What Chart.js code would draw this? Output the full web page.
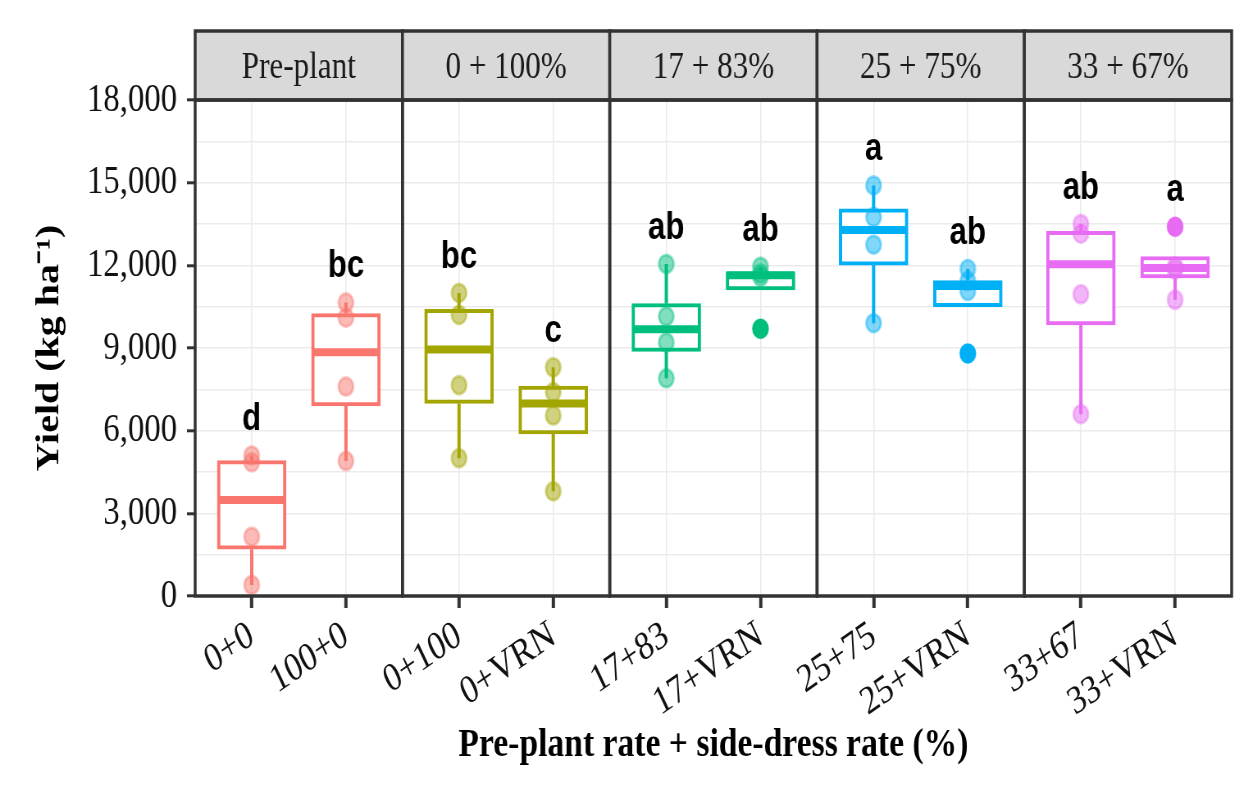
<!DOCTYPE html>
<html>
<head>
<meta charset="utf-8">
<script src="https://cdn.jsdelivr.net/npm/chart.js@4.4.1/dist/chart.umd.min.js"></script>
<style>
  html, body { margin: 0; padding: 0; background: #fff; overflow: hidden; }
  /* the reference is squeezed horizontally, so draw wide and squeeze */
  #wrap { width: 1517px; height: 794px; transform: scaleX(0.82); transform-origin: 0 0; }
</style>
</head>
<body>
<div id="wrap"><canvas id="yield-chart" width="1517" height="794"></canvas></div>
<script>
// facets and treatments
const panels = ['Pre-plant', '0 + 100%', '17 + 83%', '25 + 75%', '33 + 67%'];
const categories = ['0+0', '100+0', '0+100', '0+VRN', '17+83', '17+VRN', '25+75', '25+VRN', '33+67', '33+VRN'];

// individual yields (kg/ha), 4 reps per treatment
const yields = [
  [400, 2150, 4850, 5100],
  [4900, 7600, 10100, 10650],
  [5000, 7650, 10200, 11000],
  [3800, 6550, 7400, 8300],
  [7900, 9200, 10150, 12050],
  [9700, 11580, 11700, 11950],
  [9900, 12750, 13750, 14900],
  [8800, 11070, 11430, 11870],
  [6600, 10950, 13150, 13500],
  [10750, 11850, 11950, 13400]
];

// box statistics
const q1 =          [1700, 6900, 6990, 5880, 8880, 11110, 12010, 10500, 9840, 11540];
const medians =     [3480, 8850, 8950, 6990, 9680, 11640, 13280, 11250, 12040, 11900];
const q3 =          [4910, 10250, 10400, 7620, 10610, 11760, 14050, 11450, 13230, 12320];
const whiskerLow =  [400, 4900, 5000, 3800, 7900, 11110, 9900, 10500, 6600, 10750];
const whiskerHigh = [5100, 10650, 11000, 8300, 12050, 11950, 14900, 11870, 13500, 12320];
const outliers = [[], [], [], [], [], [9700], [], [8800], [], [13400]];

// mean separation letters
const letters = ['d', 'bc', 'bc', 'c', 'ab', 'ab', 'a', 'ab', 'ab', 'a'];

const panelColors = ['#F8766D', '#A3A500', '#00BF7D', '#00B0F6', '#E76BF3'];
const panelWidth = 2.2;        // each facet spans 0.4..2.6 in its own units
const boxHalf = 0.36;
const catPos = categories.map((c, i) => Math.floor(i / 2) * panelWidth + 0.6 + (i % 2));
const colorOf = i => panelColors[Math.floor(i / 2)];

function alpha(hex, a) {
  const n = parseInt(hex.slice(1), 16);
  return `rgba(${n >> 16},${(n >> 8) & 255},${n & 255},${a})`;
}

const pointData = [];
yields.forEach((vals, i) => vals.forEach(v => pointData.push({ x: catPos[i], y: v, g: i })));
const outlierData = [];
outliers.forEach((vals, i) => vals.forEach(v => outlierData.push({ x: catPos[i], y: v, g: i })));

const boxPlugin = {
  id: 'boxParts',
  beforeDatasetsDraw(chart) {
    const { ctx, scales: { x, y } } = chart;
    ctx.save();
    ctx.lineWidth = 4;
    categories.forEach((c, i) => {
      const px = x.getPixelForValue(catPos[i]);
      ctx.strokeStyle = colorOf(i);
      ctx.beginPath();
      ctx.moveTo(px, y.getPixelForValue(q3[i]));
      ctx.lineTo(px, y.getPixelForValue(whiskerHigh[i]));
      ctx.moveTo(px, y.getPixelForValue(q1[i]));
      ctx.lineTo(px, y.getPixelForValue(whiskerLow[i]));
      ctx.stroke();
    });
    ctx.restore();
  },
  afterDatasetDraw(chart, args) {
    if (args.meta.type !== 'bar') return;
    const { ctx, scales: { x, y } } = chart;
    ctx.save();
    ctx.lineWidth = 8;
    categories.forEach((c, i) => {
      const py = y.getPixelForValue(medians[i]);
      ctx.strokeStyle = colorOf(i);
      ctx.beginPath();
      ctx.moveTo(x.getPixelForValue(catPos[i] - boxHalf), py);
      ctx.lineTo(x.getPixelForValue(catPos[i] + boxHalf), py);
      ctx.stroke();
    });
    ctx.restore();
  },
  afterDatasetsDraw(chart) {
    const { ctx, scales: { x, y } } = chart;
    ctx.save();
    ctx.fillStyle = '#000';
    ctx.font = 'bold 38px "Liberation Sans", Arial, sans-serif';
    ctx.textAlign = 'center';
    ctx.textBaseline = 'middle';
    letters.forEach((l, i) => {
      const top = Math.max(...yields[i], ...outliers[i]);
      ctx.fillText(l, x.getPixelForValue(catPos[i]), y.getPixelForValue(top + 1300));
    });
    ctx.restore();
  },
  afterDraw(chart) {
    const { ctx, chartArea: area, scales: { x } } = chart;
    const stripTop = 31;
    ctx.save();
    ctx.lineWidth = 3.5;
    ctx.strokeStyle = '#333';
    panels.forEach((p, k) => {
      const l = x.getPixelForValue(k * panelWidth);
      const r = x.getPixelForValue((k + 1) * panelWidth);
      ctx.fillStyle = '#d9d9d9';
      ctx.fillRect(l, stripTop, r - l, area.top - stripTop);
      ctx.strokeRect(l, stripTop, r - l, area.top - stripTop);
      ctx.strokeRect(l, area.top, r - l, area.bottom - area.top);
      ctx.fillStyle = '#1a1a1a';
      ctx.font = '38px "Liberation Serif", "Times New Roman", serif';
      ctx.textAlign = 'center';
      ctx.textBaseline = 'alphabetic';
      ctx.fillText(p, (l + r) / 2, 78);
    });
    ctx.restore();
  }
};

new Chart(document.getElementById('yield-chart'), {
  type: 'scatter',
  data: {
    datasets: [
      {
        data: pointData,
        order: 0,
        pointRadius: 9,
        pointHoverRadius: 9,
        pointBorderWidth: 3,
        pointBackgroundColor: c => alpha(colorOf(c.raw.g), 0.5),
        pointBorderColor: c => alpha(colorOf(c.raw.g), 0.4)
      },
      {
        data: outlierData,
        order: 1,
        pointRadius: 10,
        pointHoverRadius: 10,
        pointBorderWidth: 0,
        pointBackgroundColor: c => colorOf(c.raw.g)
      },
      {
        type: 'bar',
        order: 2,
        data: categories.map((c, i) => ({ x: catPos[i], y: [q1[i], q3[i]] })),
        backgroundColor: '#fff',
        borderColor: categories.map((c, i) => colorOf(i)),
        borderWidth: 4,
        borderSkipped: false,
        barThickness: 84
      }
    ]
  },
  options: {
    responsive: false,
    animation: false,
    events: [],
    layout: { padding: { top: 100, right: 15, left: 0, bottom: 0 } },
    plugins: { legend: { display: false }, tooltip: { enabled: false } },
    scales: {
      x: {
        type: 'linear',
        min: 0,
        max: 11,
        offset: false,
        afterFit: s => { s.height = 198; },
        afterBuildTicks: s => { s.ticks = catPos.map(v => ({ value: v })); },
        ticks: {
          autoSkip: false,
          minRotation: 30,
          maxRotation: 30,
          padding: 4,
          color: '#111',
          font: { family: '"Liberation Serif", "Times New Roman", serif', size: 40 },
          callback: (v, i) => categories[i]
        },
        grid: { offset: false, color: '#ebebeb', lineWidth: 1.6, tickLength: 12, tickWidth: 4, tickColor: '#333' },
        border: { display: false },
        title: {
          display: true,
          text: 'Pre-plant rate + side-dress rate (%)',
          color: '#000',
          font: { family: '"Liberation Serif", "Times New Roman", serif', size: 41, weight: 'bold' },
          padding: { top: 0, bottom: 24 }
        }
      },
      y: {
        min: 0,
        max: 18000,
        afterFit: s => { s.width = 238; },
        ticks: {
          stepSize: 1500,
          autoSkip: false,
          padding: 12,
          color: '#111',
          font: { family: '"Liberation Serif", "Times New Roman", serif', size: 40 },
          callback: v => (v % 3000 === 0 ? v.toLocaleString('en-US') : '')
        },
        grid: {
          color: '#ebebeb',
          lineWidth: 1.6,
          tickLength: 10,
          tickWidth: 3,
          tickColor: c => (c.tick && c.tick.value % 3000 === 0 ? '#333' : 'rgba(0,0,0,0)')
        },
        border: { display: false },
        title: {
          display: true,
          text: 'Yield (kg ha\u207B\u00B9)',
          color: '#000',
          font: { family: '"Liberation Serif", "Times New Roman", serif', size: 40, weight: 'bold' },
          padding: { top: 37, bottom: 0 }
        }
      }
    }
  },
  plugins: [boxPlugin]
});
</script>
</body>
</html>
